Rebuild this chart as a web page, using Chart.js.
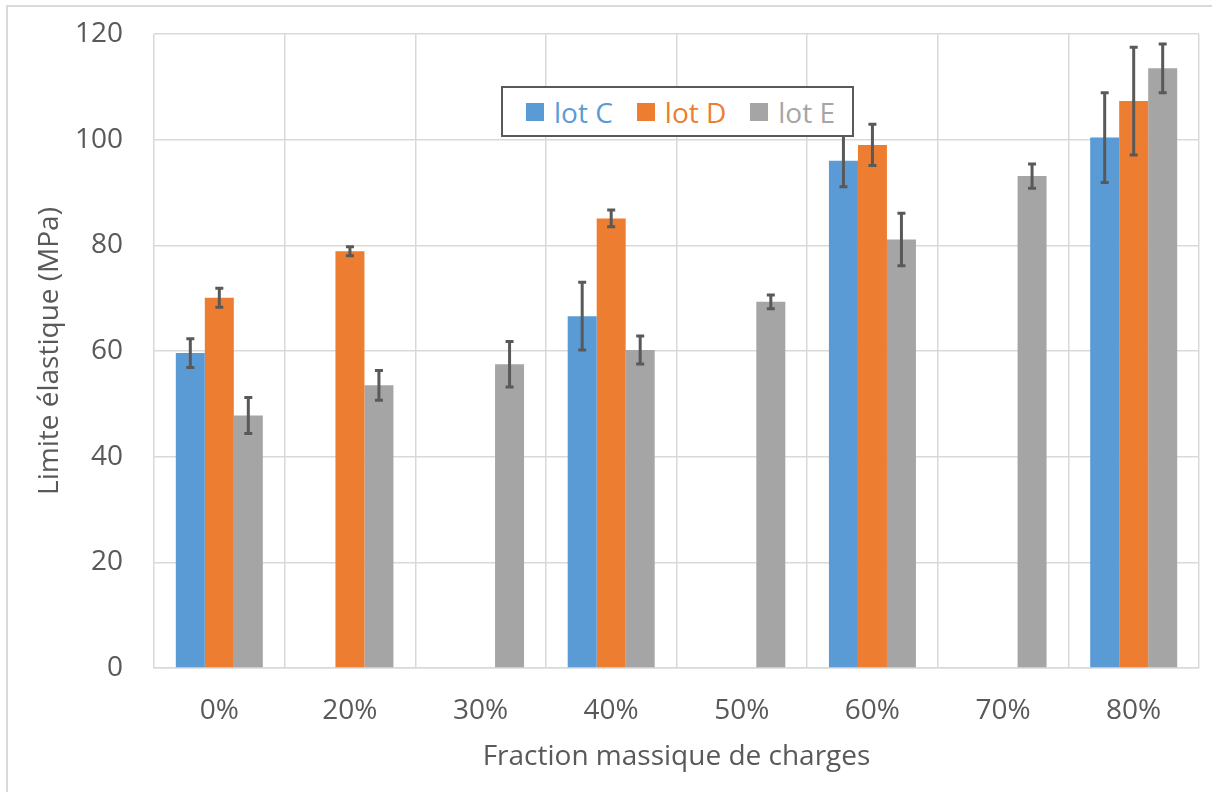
<!DOCTYPE html>
<html>
<head>
<meta charset="utf-8">
<script src="https://cdn.jsdelivr.net/npm/chart.js@4.4.0/dist/chart.umd.min.js"></script>
<style>
    html, body { margin: 0; padding: 0; background: #fff; }
    #wrap { position: relative; width: 1212px; height: 792px; overflow: hidden; }
    #frame {
        position: absolute; left: 6px; top: 5px; width: 1300px; height: 900px;
        border: 2px solid #d9d9d9; pointer-events: none;
    }
    #legend {
        position: absolute; left: 501px; top: 86px; width: 353px; height: 51px;
        border: 2px solid #595959; background: #fff; box-sizing: border-box;
        display: flex; align-items: center; padding-left: 23px; white-space: nowrap;
        font-family: "Open Sans", sans-serif; font-size: 28px;
    }
    .item { display: flex; align-items: center; margin-right: 24px; flex-shrink: 0; }
    .box { width: 18px; height: 18px; margin-right: 10px; }
</style>
</head>
<body>
<div id="wrap">
    <canvas id="chart" width="1212" height="792"></canvas>
    <div id="frame"></div>
    <div id="legend"></div>
</div>
<script>
// Data
const categories = ['0%', '20%', '30%', '40%', '50%', '60%', '70%', '80%'];
const lotC = [59.6, null, null, 66.6, null, 96.0, null, 100.4];
const lotD = [70.1, 78.9, null, 85.1, null, 99.0, null, 107.3];
const lotE = [47.8, 53.5, 57.5, 60.2, 69.3, 81.1, 93.1, 113.5];
const errC = [2.7, null, null, 6.4, null, 4.9, null, 8.5];
const errD = [1.8, 0.85, null, 1.6, null, 3.9, null, 10.2];
const errE = [3.4, 2.8, 4.3, 2.65, 1.3, 4.95, 2.3, 4.6];
const yTicks = [0, 20, 40, 60, 80, 100, 120];

const textColor = '#595959';
const gridColor = '#d9d9d9';
const font = { family: '"Open Sans", sans-serif', size: 28 };

const series = [
    { label: 'lot C', data: lotC, err: errC, color: '#5b9bd5' },
    { label: 'lot D', data: lotD, err: errD, color: '#ed7d31' },
    { label: 'lot E', data: lotE, err: errE, color: '#a5a5a5' }
];

// Error bars, drawn through the chart's own scales
const errorBars = {
    id: 'errorBars',
    afterDatasetsDraw(chart) {
        const ctx = chart.ctx;
        const y = chart.scales.y;
        ctx.save();
        ctx.strokeStyle = '#595959';
        ctx.lineWidth = 3;
        chart.data.datasets.forEach((ds, di) => {
            const meta = chart.getDatasetMeta(di);
            meta.data.forEach((bar, i) => {
                const v = ds.data[i];
                const e = ds.errors[i];
                if (v == null || e == null) return;
                const top = y.getPixelForValue(v + e);
                const bot = y.getPixelForValue(v - e);
                const x = bar.x;
                ctx.beginPath();
                ctx.moveTo(x, top); ctx.lineTo(x, bot);
                ctx.moveTo(x - 4, top); ctx.lineTo(x + 4, top);
                ctx.moveTo(x - 4, bot); ctx.lineTo(x + 4, bot);
                ctx.stroke();
            });
        });
        ctx.restore();
    }
};

new Chart(document.getElementById('chart'), {
    type: 'bar',
    data: {
        labels: categories,
        datasets: series.map(s => ({
            label: s.label,
            data: s.data,
            errors: s.err,
            backgroundColor: s.color,
            borderWidth: 0
        }))
    },
    options: {
        responsive: false,
        animation: false,
        layout: { padding: { top: 34, right: 13, bottom: 0, left: 0 } },
        datasets: { bar: { barPercentage: 1, categoryPercentage: 0.666 } },
        plugins: { legend: { display: false }, tooltip: { enabled: false } },
        scales: {
            x: {
                grid: { color: gridColor, lineWidth: 1.5, drawTicks: false },
                border: { color: gridColor, width: 1.5 },
                ticks: { color: textColor, font: font, padding: 26, maxRotation: 0 },
                title: { display: true, text: 'Fraction massique de charges', color: textColor, font: font, padding: { top: 0, bottom: 18 } },
                afterFit(scale) { scale.height = 124; scale.paddingLeft = 0; scale.paddingRight = 0; }
            },
            y: {
                min: 0, max: 120,
                grid: { color: gridColor, lineWidth: 1.5, drawTicks: false },
                border: { display: false },
                afterBuildTicks(scale) { scale.ticks = yTicks.map(v => ({ value: v })); },
                ticks: { color: textColor, font: font, padding: 31 },
                title: { display: true, text: 'Limite élastique (MPa)', color: textColor, font: font, padding: { top: 33, bottom: 0 } },
                afterFit(scale) { scale.width = 154; scale.paddingTop = 0; scale.paddingBottom = 0; }
            }
        }
    },
    plugins: [errorBars]
});

// Boxed legend with coloured labels, like the original
const legend = document.getElementById('legend');
series.forEach(s => {
    const item = document.createElement('div');
    item.className = 'item';
    item.innerHTML = `<span class="box" style="background:${s.color}"></span><span style="color:${s.color}">${s.label}</span>`;
    legend.appendChild(item);
});
</script>
</body>
</html>
